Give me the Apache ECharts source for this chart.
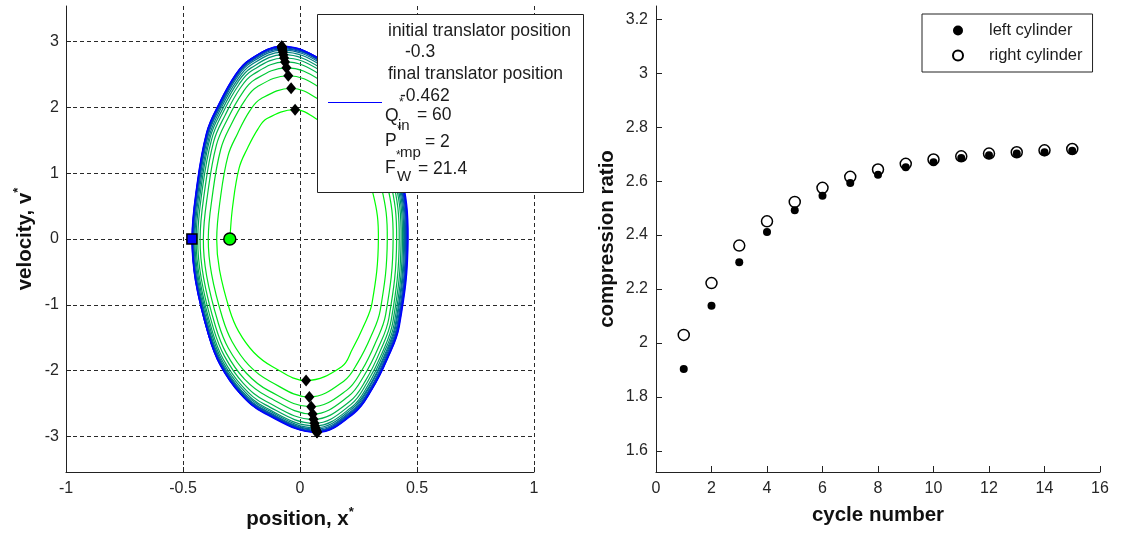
<!DOCTYPE html>
<html>
<head>
<meta charset="utf-8">
<title>Translator phase plane and compression ratio</title>
<script src="https://cdn.jsdelivr.net/npm/echarts@6.0.0/dist/echarts.min.js"></script>
<style>
html, body { margin: 0; padding: 0; background: #fff; }
#chart { width: 1139px; height: 535px; }
</style>
</head>
<body>
<div id="chart"></div>
<script>
// Phase-plane trajectory of the translator, one loop per engine cycle,
// as [position x*, velocity v*] pairs (left turn, up over the peak, right turn, down through the trough).
const loop01 = [[-0.300,0],[-0.288,0.49],[-0.260,1.08],[-0.225,1.375],[-0.180,1.67],[-0.141,1.83],[-0.021,1.965],[0.067,1.83],[0.238,1.38],[0.312,0.69],[0.335,0],[0.308,-0.97],[0.271,-1.33],[0.223,-1.68],[0.178,-1.94],[0.026,-2.15],[-0.117,-1.94],[-0.198,-1.72],[-0.263,-1.40],[-0.301,-1.075],[-0.344,-0.47],[-0.356,0]];
const loop02 = [[-0.356,0],[-0.342,0.57],[-0.308,1.26],[-0.267,1.60],[-0.214,1.95],[-0.167,2.13],[-0.038,2.29],[0.075,2.13],[0.265,1.60],[0.347,0.80],[0.373,0],[0.343,-1.08],[0.302,-1.49],[0.248,-1.87],[0.187,-2.16],[0.040,-2.40],[-0.129,-2.16],[-0.218,-1.92],[-0.290,-1.56],[-0.331,-1.20],[-0.378,-0.53],[-0.392,0]];
const loop03 = [[-0.392,0],[-0.376,0.62],[-0.339,1.36],[-0.294,1.74],[-0.235,2.11],[-0.184,2.31],[-0.050,2.48],[0.080,2.31],[0.283,1.74],[0.370,0.87],[0.398,0],[0.366,-1.15],[0.322,-1.58],[0.265,-1.99],[0.199,-2.30],[0.048,-2.55],[-0.136,-2.30],[-0.229,-2.04],[-0.306,-1.66],[-0.349,-1.28],[-0.399,-0.56],[-0.413,0]];
const loop04 = [[-0.413,0],[-0.396,0.65],[-0.357,1.43],[-0.310,1.82],[-0.248,2.21],[-0.194,2.42],[-0.058,2.60],[0.083,2.42],[0.293,1.82],[0.384,0.91],[0.413,0],[0.380,-1.20],[0.335,-1.65],[0.275,-2.07],[0.207,-2.39],[0.054,-2.66],[-0.141,-2.39],[-0.237,-2.13],[-0.316,-1.73],[-0.361,-1.33],[-0.412,-0.59],[-0.427,0]];
const loop05 = [[-0.427,0],[-0.410,0.67],[-0.369,1.48],[-0.320,1.88],[-0.256,2.29],[-0.201,2.50],[-0.064,2.69],[0.085,2.50],[0.301,1.88],[0.394,0.94],[0.424,0],[0.390,-1.23],[0.343,-1.70],[0.282,-2.14],[0.212,-2.47],[0.058,-2.74],[-0.144,-2.47],[-0.243,-2.19],[-0.323,-1.78],[-0.369,-1.37],[-0.422,-0.60],[-0.437,0]];
const loop06 = [[-0.437,0],[-0.420,0.69],[-0.378,1.51],[-0.328,1.93],[-0.262,2.34],[-0.205,2.56],[-0.068,2.75],[0.086,2.56],[0.307,1.93],[0.402,0.96],[0.432,0],[0.397,-1.26],[0.350,-1.74],[0.287,-2.18],[0.216,-2.52],[0.062,-2.80],[-0.147,-2.52],[-0.246,-2.24],[-0.329,-1.82],[-0.375,-1.40],[-0.428,-0.62],[-0.444,0]];
const loop07 = [[-0.444,0],[-0.426,0.70],[-0.384,1.54],[-0.333,1.96],[-0.266,2.38],[-0.209,2.60],[-0.071,2.80],[0.088,2.60],[0.311,1.96],[0.407,0.98],[0.438,0],[0.403,-1.28],[0.355,-1.76],[0.291,-2.22],[0.219,-2.56],[0.064,-2.84],[-0.148,-2.56],[-0.249,-2.27],[-0.332,-1.85],[-0.379,-1.42],[-0.433,-0.62],[-0.449,0]];
const loop08 = [[-0.449,0],[-0.431,0.71],[-0.388,1.56],[-0.337,1.99],[-0.269,2.41],[-0.211,2.64],[-0.073,2.84],[0.089,2.64],[0.315,1.99],[0.412,0.99],[0.443,0],[0.408,-1.29],[0.359,-1.78],[0.295,-2.24],[0.222,-2.58],[0.066,-2.87],[-0.149,-2.58],[-0.251,-2.30],[-0.335,-1.87],[-0.383,-1.44],[-0.437,-0.63],[-0.453,0]];
const loop09 = [[-0.453,0],[-0.435,0.72],[-0.392,1.58],[-0.340,2.01],[-0.272,2.44],[-0.213,2.67],[-0.075,2.87],[0.089,2.67],[0.317,2.01],[0.416,1.00],[0.447,0],[0.411,-1.30],[0.362,-1.79],[0.297,-2.25],[0.224,-2.60],[0.068,-2.89],[-0.150,-2.60],[-0.253,-2.31],[-0.337,-1.88],[-0.385,-1.45],[-0.440,-0.64],[-0.456,0]];
const loop10 = [[-0.456,0],[-0.438,0.72],[-0.394,1.59],[-0.342,2.02],[-0.274,2.46],[-0.214,2.69],[-0.076,2.89],[0.090,2.69],[0.320,2.02],[0.419,1.01],[0.451,0],[0.415,-1.31],[0.365,-1.80],[0.300,-2.27],[0.226,-2.61],[0.069,-2.905],[-0.151,-2.61],[-0.254,-2.32],[-0.339,-1.89],[-0.387,-1.45],[-0.442,-0.64],[-0.458,0]];
const loop11 = [[-0.458,0],[-0.440,0.73],[-0.396,1.60],[-0.344,2.03],[-0.275,2.47],[-0.215,2.70],[-0.077,2.905],[0.091,2.70],[0.322,2.03],[0.422,1.02],[0.454,0],[0.418,-1.31],[0.368,-1.81],[0.302,-2.27],[0.227,-2.62],[0.070,-2.915],[-0.151,-2.62],[-0.255,-2.33],[-0.340,-1.89],[-0.388,-1.46],[-0.443,-0.64],[-0.459,0]];
const loop12 = [[-0.459,0],[-0.441,0.73],[-0.397,1.60],[-0.344,2.04],[-0.275,2.48],[-0.216,2.71],[-0.077,2.915],[0.091,2.71],[0.324,2.04],[0.424,1.02],[0.456,0],[0.420,-1.32],[0.369,-1.81],[0.303,-2.28],[0.228,-2.63],[0.071,-2.925],[-0.152,-2.63],[-0.255,-2.34],[-0.340,-1.90],[-0.389,-1.46],[-0.444,-0.64],[-0.460,0]];
const loop13 = [[-0.460,0],[-0.442,0.73],[-0.398,1.61],[-0.345,2.04],[-0.276,2.48],[-0.216,2.72],[-0.078,2.92],[0.092,2.72],[0.325,2.04],[0.426,1.02],[0.458,0],[0.421,-1.32],[0.371,-1.82],[0.305,-2.29],[0.229,-2.64],[0.072,-2.93],[-0.152,-2.64],[-0.256,-2.34],[-0.341,-1.90],[-0.390,-1.47],[-0.445,-0.64],[-0.461,0]];
const loop14 = [[-0.461,0],[-0.443,0.73],[-0.399,1.61],[-0.346,2.05],[-0.277,2.49],[-0.217,2.72],[-0.078,2.925],[0.092,2.72],[0.327,2.05],[0.428,1.02],[0.460,0],[0.423,-1.32],[0.373,-1.82],[0.306,-2.29],[0.230,-2.64],[0.072,-2.935],[-0.152,-2.64],[-0.256,-2.35],[-0.342,-1.91],[-0.390,-1.47],[-0.446,-0.65],[-0.462,0]];
const loop15 = [[-0.462,0],[-0.444,0.73],[-0.400,1.61],[-0.347,2.05],[-0.277,2.49],[-0.217,2.72],[-0.078,2.93],[0.092,2.72],[0.328,2.05],[0.430,1.03],[0.462,0],[0.425,-1.32],[0.374,-1.82],[0.307,-2.29],[0.231,-2.65],[0.073,-2.94],[-0.152,-2.65],[-0.256,-2.35],[-0.342,-1.91],[-0.390,-1.47],[-0.446,-0.65],[-0.462,0]];
const loops = [loop01, loop02, loop03, loop04, loop05, loop06, loop07, loop08, loop09, loop10, loop11, loop12, loop13, loop14, loop15];

// Run parameters shown in the phase-plane legend
const initialPosition = -0.3;
const finalPosition = -0.462;
const heatInput = 60;
const pumpPressure = 2;
const wallForce = 21.4;

// Phase-plane axis ticks
const positionTicks = [-1, -0.5, 0, 0.5, 1];
const velocityTicks = [-3, -2, -1, 0, 1, 2, 3];

// Compression ratio reached in each cycle
const cycleNumber = [1, 2, 3, 4, 5, 6, 7, 8, 9, 10, 11, 12, 13, 14, 15];
const leftCylinder = [1.904, 2.138, 2.299, 2.411, 2.492, 2.546, 2.593, 2.624, 2.651, 2.670, 2.686, 2.696, 2.702, 2.707, 2.713];
const rightCylinder = [2.030, 2.222, 2.361, 2.451, 2.523, 2.575, 2.616, 2.643, 2.664, 2.680, 2.692, 2.702, 2.707, 2.714, 2.719];
const cycleTicks = [0, 2, 4, 6, 8, 10, 12, 14, 16];
const ratioTicks = [1.6, 1.8, 2, 2.2, 2.4, 2.6, 2.8, 3, 3.2];

const FONT = 'Arial, "Liberation Sans", sans-serif';
const INK = '#1c1c1c';

// cycle colour runs from green (first loop) to blue (last loop)
function loopColor(i, n) {
  const t = n > 1 ? i / (n - 1) : 0;
  return 'rgb(0,' + Math.round(255 * (1 - t)) + ',' + Math.round(255 * t) + ')';
}

// peak and trough of each loop (extreme velocity)
const peaks = loops.map(l => l.reduce((a, b) => (b[1] > a[1] ? b : a)));
const troughs = loops.map(l => l.reduce((a, b) => (b[1] < a[1] ? b : a)));

// Smooth cubic path through pixel points; prev/next are the neighbours
// outside this loop so consecutive loops join without a corner.
function dist(a, b) { return Math.hypot(b[0] - a[0], b[1] - a[1]); }
function splinePath(pts, prev, next, s) {
  const all = [prev || pts[0]].concat(pts, [next || pts[pts.length - 1]]);
  let d = 'M' + pts[0][0].toFixed(2) + ',' + pts[0][1].toFixed(2);
  for (let k = 1; k < all.length - 2; k++) {
    const p0 = all[k - 1], p1 = all[k], p2 = all[k + 1], p3 = all[k + 2];
    const d01 = dist(p0, p1), d12 = dist(p1, p2), d23 = dist(p2, p3);
    const r1 = d12 / ((d01 + d12) || 1);
    const r2 = d12 / ((d12 + d23) || 1);
    const c1x = p1[0] + (p2[0] - p0[0]) * s * r1, c1y = p1[1] + (p2[1] - p0[1]) * s * r1;
    const c2x = p2[0] - (p3[0] - p1[0]) * s * r2, c2y = p2[1] - (p3[1] - p1[1]) * s * r2;
    d += 'C' + c1x.toFixed(2) + ',' + c1y.toFixed(2) + ' ' + c2x.toFixed(2) + ',' + c2y.toFixed(2) +
         ' ' + p2[0].toFixed(2) + ',' + p2[1].toFixed(2);
  }
  return d;
}

function renderLoop(params, api) {
  const i = api.value(2);
  const px = loops.map(l => l.map(p => api.coord(p)));
  const cur = px[i];
  const prev = i > 0 ? px[i - 1][px[i - 1].length - 2] : null;
  const next = i < px.length - 1 ? px[i + 1][1] : null;
  return {
    type: 'path',
    shape: { pathData: splinePath(cur, prev, next, 0.4) },
    style: { fill: 'none', stroke: loopColor(i, loops.length), lineWidth: 1.2 },
    silent: true
  };
}

const titleStyle = {
  fontSize: 20.5, fontWeight: 'bold', color: '#111', fontFamily: FONT,
  rich: {
    t: { fontSize: 20.5, fontWeight: 'bold', color: '#111', fontFamily: FONT, lineHeight: 26 },
    s: { fontSize: 13, fontWeight: 'bold', color: '#111', fontFamily: FONT, verticalAlign: 'top', lineHeight: 26 }
  }
};
const tickLabel = { fontSize: 16, color: '#262626', fontFamily: FONT };
const axisLine = { show: true, onZero: false, lineStyle: { color: '#222', width: 1 } };
const dashed = { show: true, lineStyle: { color: '#2a2a2a', width: 1, type: [4, 3] } };

const option = {
  animation: false,
  backgroundColor: '#fff',
  textStyle: { fontFamily: FONT },
  grid: [
    { left: 66, top: 6, width: 468, height: 466, outerBoundsMode: 'none', containLabel: false },
    { left: 656, top: 6, width: 444, height: 466, outerBoundsMode: 'none', containLabel: false }
  ],
  xAxis: [
    {
      gridIndex: 0, type: 'value', min: -1, max: 1,
      axisLine: axisLine,
      axisTick: { show: true, inside: true, length: 5, customValues: positionTicks, lineStyle: { color: '#222' } },
      axisLabel: Object.assign({ margin: 9, customValues: positionTicks }, tickLabel),
      splitLine: dashed,
      name: '{t|position, x}{s|*}', nameLocation: 'middle', nameGap: 34,
      nameTextStyle: titleStyle
    },
    {
      gridIndex: 1, type: 'value', min: 0, max: 16,
      axisLine: axisLine,
      axisTick: { show: true, inside: true, length: 6, customValues: cycleTicks, lineStyle: { color: '#222' } },
      axisLabel: Object.assign({ margin: 9, customValues: cycleTicks }, tickLabel),
      splitLine: { show: false },
      name: 'cycle number', nameLocation: 'middle', nameGap: 33,
      nameTextStyle: { fontSize: 20.5, fontWeight: 'bold', color: '#111', fontFamily: FONT }
    }
  ],
  yAxis: [
    {
      gridIndex: 0, type: 'value', min: -3.54, max: 3.54,
      axisLine: axisLine,
      axisTick: { show: true, inside: true, length: 5, customValues: velocityTicks, lineStyle: { color: '#222' } },
      axisLabel: Object.assign({ margin: 7, customValues: velocityTicks }, tickLabel),
      splitLine: dashed,
      name: '{t|velocity, v}{s|*}', nameLocation: 'middle', nameGap: 28, nameRotate: 90,
      nameTextStyle: titleStyle
    },
    {
      gridIndex: 1, type: 'value', min: 1.522, max: 3.249,
      axisLine: axisLine,
      axisTick: { show: true, inside: true, length: 6, customValues: ratioTicks, lineStyle: { color: '#222' } },
      axisLabel: Object.assign({ margin: 8, customValues: ratioTicks }, tickLabel),
      splitLine: { show: false },
      name: 'compression ratio', nameLocation: 'middle', nameGap: 38, nameRotate: 90,
      nameTextStyle: { fontSize: 20.5, fontWeight: 'bold', color: '#111', fontFamily: FONT }
    }
  ],
  legend: {
    data: ['left cylinder', 'right cylinder'],
    orient: 'vertical',
    left: 922, top: 14,
    padding: [8, 10, 8, 30],
    itemWidth: 52, itemHeight: 10, itemGap: 8,
    borderColor: '#222', borderWidth: 1, borderRadius: 0,
    backgroundColor: '#fff',
    textStyle: { fontSize: 16.5, color: INK, fontFamily: FONT },
    selectedMode: false
  },
  series: [
    {
      type: 'custom', name: 'trajectory', coordinateSystem: 'cartesian2d',
      xAxisIndex: 0, yAxisIndex: 0,
      data: loops.map((l, i) => [l[0][0], l[0][1], i]),
      encode: { x: 0, y: 1 },
      renderItem: renderLoop,
      silent: true, z: 2
    },
    {
      type: 'scatter', name: 'extremes', xAxisIndex: 0, yAxisIndex: 0,
      data: peaks.concat(troughs),
      symbol: 'diamond', symbolSize: [10, 12],
      itemStyle: { color: '#000', opacity: 1 }, silent: true, z: 4
    },
    {
      type: 'scatter', name: 'initial', xAxisIndex: 0, yAxisIndex: 0,
      data: [[initialPosition, 0]],
      symbol: 'circle', symbolSize: 12,
      itemStyle: { color: '#00ff00', borderColor: '#000', borderWidth: 1.5, opacity: 1 }, silent: true, z: 5
    },
    {
      type: 'scatter', name: 'final', xAxisIndex: 0, yAxisIndex: 0,
      data: [[finalPosition, 0]],
      symbol: 'rect', symbolSize: 10,
      itemStyle: { color: '#0000ff', borderColor: '#000', borderWidth: 1.5, opacity: 1 }, silent: true, z: 5
    },
    {
      type: 'scatter', name: 'left cylinder', xAxisIndex: 1, yAxisIndex: 1,
      data: cycleNumber.map((c, i) => [c, leftCylinder[i]]),
      symbol: 'circle', symbolSize: 8,
      itemStyle: { color: '#000', opacity: 1 }, z: 3
    },
    {
      type: 'scatter', name: 'right cylinder', xAxisIndex: 1, yAxisIndex: 1,
      data: cycleNumber.map((c, i) => [c, rightCylinder[i]]),
      symbol: 'circle', symbolSize: 11,
      itemStyle: { color: 'rgba(255,255,255,0)', borderColor: '#000', borderWidth: 1.5, opacity: 1 }, z: 4
    }
  ],
  graphic: [
    {
      type: 'group', z: 100,
      children: [
        { type: 'rect', shape: { x: 317.5, y: 14.5, width: 266, height: 178 }, style: { fill: '#fff', stroke: '#222', lineWidth: 1 }, z: 100 },
        { type: 'line', shape: { x1: 328, y1: 102.5, x2: 382, y2: 102.5 }, style: { stroke: '#0000ff', lineWidth: 1 }, z: 101 },
        { type: 'text', x: 388, y: 31, style: { text: 'initial translator position', fontSize: 17.5, fontFamily: FONT, fill: INK, verticalAlign: 'middle' }, z: 101 },
        { type: 'text', x: 405, y: 52, style: { text: String(initialPosition), fontSize: 17.5, fontFamily: FONT, fill: INK, verticalAlign: 'middle' }, z: 101 },
        { type: 'text', x: 388, y: 74, style: { text: 'final translator position', fontSize: 17.5, fontFamily: FONT, fill: INK, verticalAlign: 'middle' }, z: 101 },
        { type: 'text', x: 400, y: 96, style: { text: String(finalPosition), fontSize: 17.5, fontFamily: FONT, fill: INK, verticalAlign: 'middle' }, z: 101 },
        { type: 'text', x: 385, y: 116, style: { text: 'Q', fontSize: 17.5, fontFamily: FONT, fill: INK, verticalAlign: 'middle' }, z: 101 },
        { type: 'text', x: 399, y: 103, style: { text: '*', fontSize: 12, fontFamily: FONT, fill: INK, verticalAlign: 'middle' }, z: 101 },
        { type: 'text', x: 398, y: 126, style: { text: 'in', fontSize: 15, fontFamily: FONT, fill: INK, verticalAlign: 'middle' }, z: 101 },
        { type: 'text', x: 417, y: 115, style: { text: '= ' + heatInput, fontSize: 17.5, fontFamily: FONT, fill: INK, verticalAlign: 'middle' }, z: 101 },
        { type: 'text', x: 385, y: 141, style: { text: 'P', fontSize: 17.5, fontFamily: FONT, fill: INK, verticalAlign: 'middle' }, z: 101 },
        { type: 'text', x: 397, y: 130, style: { text: '*', fontSize: 12, fontFamily: FONT, fill: INK, verticalAlign: 'middle' }, z: 101 },
        { type: 'text', x: 400, y: 153, style: { text: 'mp', fontSize: 15, fontFamily: FONT, fill: INK, verticalAlign: 'middle' }, z: 101 },
        { type: 'text', x: 425, y: 142, style: { text: '= ' + pumpPressure, fontSize: 17.5, fontFamily: FONT, fill: INK, verticalAlign: 'middle' }, z: 101 },
        { type: 'text', x: 385, y: 168, style: { text: 'F', fontSize: 17.5, fontFamily: FONT, fill: INK, verticalAlign: 'middle' }, z: 101 },
        { type: 'text', x: 396, y: 156, style: { text: '*', fontSize: 12, fontFamily: FONT, fill: INK, verticalAlign: 'middle' }, z: 101 },
        { type: 'text', x: 397, y: 177, style: { text: 'W', fontSize: 15, fontFamily: FONT, fill: INK, verticalAlign: 'middle' }, z: 101 },
        { type: 'text', x: 418, y: 169, style: { text: '= ' + wallForce, fontSize: 17.5, fontFamily: FONT, fill: INK, verticalAlign: 'middle' }, z: 101 }
      ]
    }
  ]
};

const chart = echarts.init(document.getElementById('chart'), null, { renderer: 'canvas' });
chart.setOption(option);
</script>
</body>
</html>
